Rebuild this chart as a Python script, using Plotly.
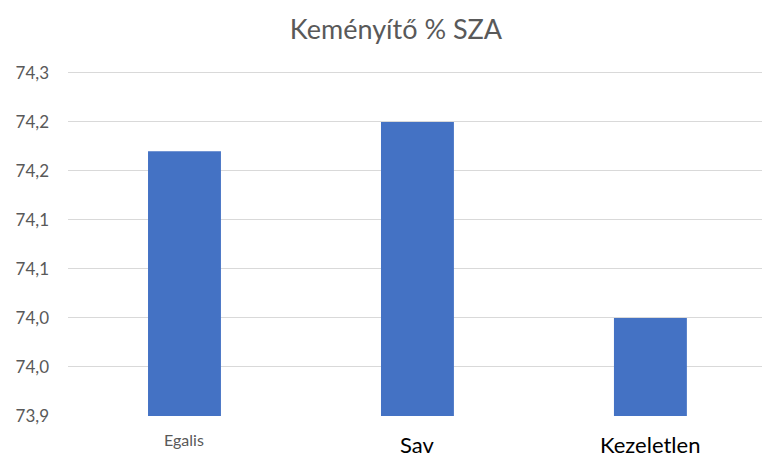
import plotly.graph_objects as go

categories = ["Egalis", "Sav", "Kezeletlen"]
values = [74.17, 74.20, 74.00]
tick_vals = [73.9, 73.95, 74.0, 74.05, 74.1, 74.15, 74.2, 74.25]
tick_text = ["73,9", "74,0", "74,0", "74,1", "74,1", "74,2", "74,2", "74,3"]
cat_font_sizes = [16, 22, 22]
cat_colors = ["#595959", "#000000", "#000000"]
cat_shifts = [-13, -14, -14]

fig = go.Figure(go.Bar(
    x=list(range(len(categories))), y=values, marker_color="#4472C4",
    marker_line_width=0,
))

for i, (name, fs, col, ys) in enumerate(zip(categories, cat_font_sizes, cat_colors, cat_shifts)):
    fig.add_annotation(x=i, xref="x", y=0, yref="paper", text=name, showarrow=False,
                       xanchor="center", yanchor="top", yshift=ys, borderpad=0,
                       font=dict(size=fs, color=col))

fig.update_layout(
    width=762, height=457,
    margin=dict(l=68, r=0, t=71, b=41),
    paper_bgcolor="white", plot_bgcolor="white",
    font=dict(family="Lato, Open Sans, sans-serif", color="#595959"),
    title=dict(text="Keményítő % SZA", x=396/762, xanchor="center", xref="container",
               y=1 - 30/457, yanchor="middle", yref="container",
               font=dict(size=27, color="#595959")),
    bargap=0.687,
    showlegend=False,
)
fig.update_xaxes(range=[-0.5, 2.479], tickvals=list(range(len(categories))),
                 showticklabels=False,
                 showgrid=False, showline=False, zeroline=False, ticks="")
fig.update_yaxes(range=[73.9, 74.252], tickvals=tick_vals, ticktext=tick_text,
                 showgrid=True, gridcolor="#D9D9D9", gridwidth=1, zeroline=False, showline=False,
                 ticks="", tickfont=dict(size=17, color="#595959"), ticklabelstandoff=18)

fig.write_html("out.html", config={"displayModeBar": False},
               post_script="document.body.style.margin='0';document.body.style.overflow='hidden';")
